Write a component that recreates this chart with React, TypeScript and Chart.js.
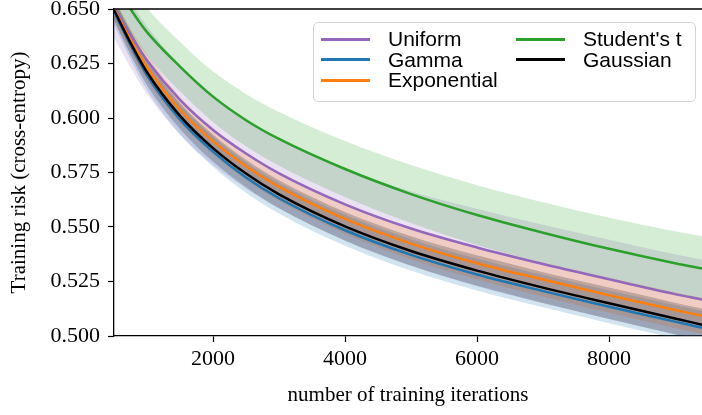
import React, { useEffect, useRef } from "react";
import { Chart, registerables } from "chart.js";

Chart.register(...registerables);

// x positions (training iterations) at which curves were read
const ITERATIONS = [500, 750, 1000, 1500, 2000, 2500, 3000, 4000, 5000, 6000, 7000, 8000, 9000, 9409];

// mean training risk per distribution
const UNIFORM = [0.6509, 0.6382, 0.6265, 0.6083, 0.5945, 0.5837, 0.5746, 0.5604, 0.5493, 0.5406, 0.533, 0.526, 0.5192, 0.5167];
const GAMMA = [0.6488, 0.6334, 0.6196, 0.5994, 0.5846, 0.5727, 0.5632, 0.5485, 0.5372, 0.5282, 0.5206, 0.5134, 0.5066, 0.5038];
const EXPONENTIAL = [0.65, 0.6359, 0.6233, 0.6038, 0.5894, 0.5779, 0.5684, 0.5537, 0.5424, 0.5334, 0.5259, 0.5187, 0.5119, 0.5093];
const STUDENT_T = [0.6624, 0.65, 0.6394, 0.6236, 0.6098, 0.599, 0.5904, 0.5766, 0.5651, 0.5555, 0.5474, 0.54, 0.5334, 0.531];
const GAUSSIAN = [0.6495, 0.6345, 0.621, 0.601, 0.5862, 0.5745, 0.565, 0.5503, 0.539, 0.53, 0.5222, 0.515, 0.508, 0.5052];

// half-width of shaded band per distribution
const UNIFORM_SPREAD = [0.014, 0.015, 0.0155, 0.016, 0.016, 0.016, 0.016, 0.0165, 0.017, 0.0178, 0.018, 0.0182, 0.0183, 0.0184];
const GAMMA_SPREAD = [0.006, 0.0065, 0.0068, 0.0069, 0.007, 0.007, 0.007, 0.0071, 0.0072, 0.0073, 0.0074, 0.0075, 0.0076, 0.0077];
const EXPONENTIAL_SPREAD = [0.005, 0.0055, 0.0058, 0.006, 0.006, 0.0062, 0.0064, 0.0068, 0.0072, 0.0075, 0.0078, 0.008, 0.0082, 0.0083];
const STUDENT_T_SPREAD = [0.0105, 0.011, 0.011, 0.0113, 0.0116, 0.012, 0.0123, 0.0128, 0.0133, 0.0137, 0.014, 0.0143, 0.0146, 0.0147];
const GAUSSIAN_SPREAD = [0.005, 0.0055, 0.006, 0.006, 0.0062, 0.0063, 0.0064, 0.0066, 0.0068, 0.007, 0.0071, 0.0072, 0.0073, 0.0074];

const X_TICKS = [2000, 4000, 6000, 8000];
const Y_TICKS = [0.5, 0.525, 0.55, 0.575, 0.6, 0.625, 0.65];

const SERIES = [
  { label: "Uniform", color: "#9467bd", rgb: "148,103,189", mean: UNIFORM, spread: UNIFORM_SPREAD },
  { label: "Gamma", color: "#1f77b4", rgb: "31,119,180", mean: GAMMA, spread: GAMMA_SPREAD },
  { label: "Exponential", color: "#ff7f0e", rgb: "255,127,14", mean: EXPONENTIAL, spread: EXPONENTIAL_SPREAD },
  { label: "Student's t", color: "#2ca02c", rgb: "44,160,44", mean: STUDENT_T, spread: STUDENT_T_SPREAD },
  { label: "Gaussian", color: "#000000", rgb: "0,0,0", mean: GAUSSIAN, spread: GAUSSIAN_SPREAD },
];

const LEGEND_ITEMS = [
  { label: "Uniform", color: "#9467bd", col: 0, row: 0 },
  { label: "Gamma", color: "#1f77b4", col: 0, row: 1 },
  { label: "Exponential", color: "#ff7f0e", col: 0, row: 2 },
  { label: "Student's t", color: "#2ca02c", col: 1, row: 0 },
  { label: "Gaussian", color: "#000000", col: 1, row: 1 },
];

const SERIF = "'Liberation Serif', 'Times New Roman', serif";
const SANS = "'Liberation Sans', Arial, sans-serif";

const topSpine = {
  id: "topSpine",
  afterDatasetsDraw(chart: any) {
    const { ctx, chartArea } = chart;
    ctx.save();
    ctx.strokeStyle = "#000";
    ctx.lineWidth = 1.3;
    ctx.beginPath();
    ctx.moveTo(chartArea.left, chartArea.top);
    ctx.lineTo(chartArea.right, chartArea.top);
    ctx.stroke();
    ctx.restore();
  },
};

export default function App() {
  const canvasRef = useRef<HTMLCanvasElement | null>(null);

  useEffect(() => {
    if (!canvasRef.current) return;
    const datasets: any[] = [];
    const common = {
      pointRadius: 0,
      cubicInterpolationMode: "monotone",
      clip: 0,
    };
    SERIES.forEach((s, i) => {
      const order = 50 - i;
      datasets.push({
        ...common,
        label: s.label + " low",
        data: ITERATIONS.map((x, k) => ({ x, y: s.mean[k] - s.spread[k] })),
        borderWidth: 0,
        borderColor: "rgba(0,0,0,0)",
        fill: false,
        order,
      });
      datasets.push({
        ...common,
        label: s.label + " high",
        data: ITERATIONS.map((x, k) => ({ x, y: s.mean[k] + s.spread[k] })),
        borderWidth: 0,
        borderColor: "rgba(0,0,0,0)",
        backgroundColor: `rgba(${s.rgb},0.2)`,
        fill: "-1",
        order,
      });
    });
    SERIES.forEach((s, i) => {
      datasets.push({
        ...common,
        label: s.label,
        data: ITERATIONS.map((x, k) => ({ x, y: s.mean[k] })),
        borderColor: s.color,
        borderWidth: 2.5,
        fill: false,
        order: 10 - i,
      });
    });

    const chart = new Chart(canvasRef.current, {
      type: "line",
      data: { datasets },
      plugins: [topSpine],
      options: {
        animation: false,
        responsive: false,
        devicePixelRatio: 1,
        events: [],
        layout: { autoPadding: false, padding: { top: 9, left: 0, right: 0, bottom: 0 } },
        plugins: { legend: { display: false }, tooltip: { enabled: false } },
        scales: {
          x: {
            type: "linear",
            min: 500,
            max: 9409,
            afterBuildTicks: (s: any) => {
              s.ticks = X_TICKS.map((v) => ({ value: v }));
            },
            afterFit: (s: any) => {
              s.height = 79;
              s.paddingLeft = 0;
              s.paddingRight = 0;
              s.paddingTop = 0;
              s.paddingBottom = 0;
            },
            ticks: {
              font: { family: SERIF, size: 22 },
              color: "#000",
              padding: 4,
              maxRotation: 0,
              autoSkip: false,
              callback: (v: any) => String(v),
            },
            grid: {
              display: true,
              drawOnChartArea: false,
              drawTicks: true,
              tickLength: 6,
              tickWidth: 1.2,
              color: "#000",
            },
            border: { display: true, color: "#000", width: 1.3 },
            title: {
              display: true,
              text: "number of training iterations",
              font: { family: SERIF, size: 21 },
              color: "#000",
              padding: { top: 0, bottom: 7 },
            },
          },
          y: {
            type: "linear",
            min: 0.5,
            max: 0.65,
            afterBuildTicks: (s: any) => {
              s.ticks = Y_TICKS.map((v) => ({ value: v }));
            },
            afterFit: (s: any) => {
              s.width = 114;
              s.paddingLeft = 0;
              s.paddingRight = 0;
              s.paddingTop = 0;
              s.paddingBottom = 0;
            },
            ticks: {
              font: { family: SERIF, size: 22 },
              color: "#000",
              padding: 8,
              autoSkip: false,
              callback: (v: any) => Number(v).toFixed(3),
            },
            grid: {
              display: true,
              drawOnChartArea: false,
              drawTicks: true,
              tickLength: 6,
              tickWidth: 1.2,
              color: "#000",
            },
            border: { display: true, color: "#000", width: 1.3 },
            title: {
              display: true,
              text: "Training risk (cross-entropy)",
              font: { family: SERIF, size: 21 },
              color: "#000",
              padding: { top: 7, bottom: 0 },
            },
          },
        },
      } as any,
    });
    return () => chart.destroy();
  }, []);

  return (
    <div style={{ position: "absolute", left: 0, top: 0, width: 702, height: 415, background: "#fff", overflow: "hidden" }}>
      <canvas ref={canvasRef} width={702} height={415} style={{ position: "absolute", left: 0, top: 0, width: 702, height: 415 }} />
      <div
        style={{
          position: "absolute",
          left: 313,
          top: 22,
          width: 381,
          height: 78,
          border: "1px solid #d4d4d4",
          borderRadius: 5,
          background: "rgba(255,255,255,0.8)",
        }}
      />
      {LEGEND_ITEMS.map((item) => {
        const cy = 39 + item.row * 20.5;
        const hx = item.col === 0 ? 321 : 516;
        const tx = item.col === 0 ? 388 : 583;
        return (
          <React.Fragment key={item.label}>
            <div style={{ position: "absolute", left: hx, top: cy - 1.5, width: 49, height: 3, background: item.color }} />
            <div
              style={{
                position: "absolute",
                left: tx,
                top: cy - 12,
                height: 24,
                lineHeight: "24px",
                fontFamily: SANS,
                fontSize: 21,
                color: "#000",
                whiteSpace: "nowrap",
              }}
            >
              {item.label}
            </div>
          </React.Fragment>
        );
      })}
    </div>
  );
}
